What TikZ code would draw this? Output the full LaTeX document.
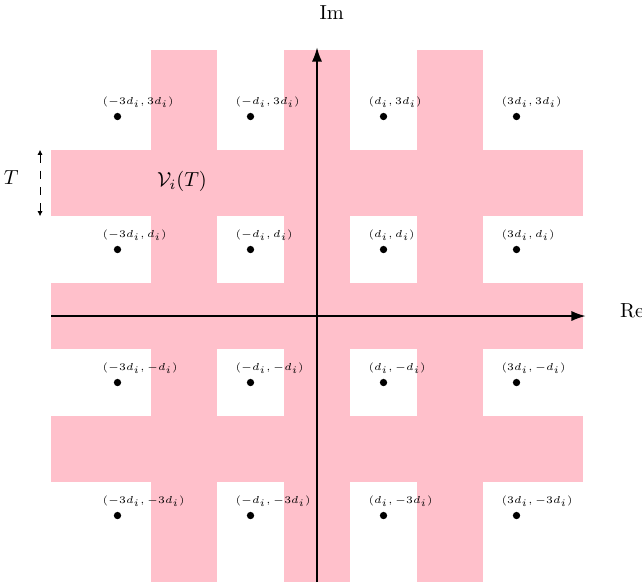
\documentclass[tikz,border=0pt]{standalone}
\usepackage{amsmath}
\usetikzlibrary{arrows.meta}
\definecolor{bandpink}{RGB}{255,192,203}
\tikzset{
  band/.style={fill=bandpink, draw=none},
  pt/.style={circle, fill=black, inner sep=0pt, minimum size=3.6pt},
  ptlabel/.style={anchor=base west, inner sep=0pt, font=\fontsize{5.3}{6}\selectfont},
  axis/.style={line width=0.8pt, -{Latex[length=7pt,width=5pt]}},
  tarrow/.style={line width=0.4pt, dash pattern=on 4pt off 4pt, {Latex[length=2.5pt,width=2.5pt]}-{Latex[length=2.5pt,width=2.5pt]}}
}
\begin{document}
\begin{tikzpicture}[x=1.15cm,y=1.15cm]
\useasboundingbox (-4.767,-4.06) rectangle (4.887,4.752);
% bands
\foreach \c in {-2,0,2}{
  \fill[band] (\c-0.5,-4) rectangle (\c+0.5,4);
  \fill[band] (-4,\c-0.5) rectangle (4,\c+0.5);
}
% points and labels
\foreach \i/\lx in {-3/-3d_i,-1/-d_i,1/d_i,3/3d_i}{
  \foreach \j/\ly in {-3/-3d_i,-1/-d_i,1/d_i,3/3d_i}{
    \node[pt] (p\i\j) at (\i,\j) {};
    \node[ptlabel] (l\i\j) at ([xshift=-0.23*1.15cm, yshift=0.18*1.15cm]p\i\j.center) {$(\lx,\ly)$};
  }
}
% axes
\coordinate (xl) at (-4,0);
\coordinate (xr) at (4.04,0);
\coordinate (yb) at (0,-4);
\coordinate (yt) at (0,4.04);
\draw[axis] (xl) -- (xr);
\draw[axis] (yb) -- (yt);
\node[anchor=west] (re) at (4.45,0.08) {Re};
\node[anchor=west] (im) at (-0.07,4.57) {Im};
% T marker
\coordinate (ta) at (-4.165,2.5);
\coordinate (tb) at (-4.165,1.5);
\draw[tarrow] (ta) -- (tb);
\node (tl) at (-4.6,2.08) {$T$};
\node (vl) at (-2.03,2.03) {$\mathcal{V}_i(T)$};
\end{tikzpicture}
\end{document}
